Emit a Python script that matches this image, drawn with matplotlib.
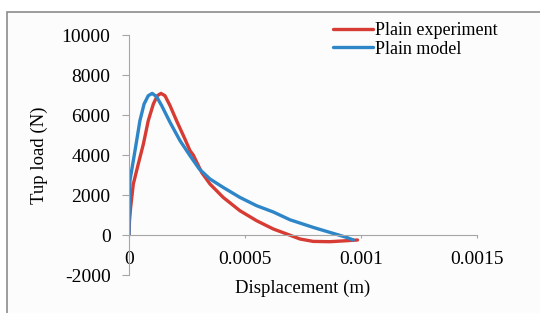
import matplotlib.pyplot as plt
from matplotlib.patches import Rectangle

plt.rcParams['font.family'] = ['Liberation Serif', 'DejaVu Serif']

# Plain experiment (red)
exp_x = [0, 0.000002, 0.000007, 0.0000186, 0.00004, 0.000062, 0.000083, 0.000105,
         0.000122, 0.000138, 0.000155, 0.000177, 0.000205, 0.000241, 0.000263,
         0.000277, 0.000313, 0.000349, 0.000406, 0.000478, 0.00055, 0.000622,
         0.00068, 0.000737, 0.000794, 0.000866, 0.000938, 0.000985]
exp_y = [0, 700, 1380, 2550, 3550, 4550, 5715, 6550, 6965, 7080, 6965, 6465, 5715,
         4800, 4215, 4000, 3130, 2550, 1880, 1215, 715, 300, 50, -200, -320, -335,
         -285, -250]

# Plain model (blue)
mod_x = [0, 0.000001, 0.000004, 0.0000186, 0.000033, 0.000047, 0.000065, 0.000083,
         0.0001, 0.000119, 0.000141, 0.000177, 0.00022, 0.000263, 0.000303,
         0.000349, 0.000406, 0.000478, 0.00055, 0.000622, 0.000694, 0.000794,
         0.000866, 0.000938, 0.000967]
mod_y = [0, 1500, 2715, 3715, 4715, 5715, 6550, 6965, 7080, 6915, 6465, 5630, 4715,
         3965, 3300, 2800, 2380, 1880, 1465, 1150, 760, 380, 130, -120, -250]

xticks = [0, 0.0005, 0.001, 0.0015]
xtick_labels = ['0', '0.0005', '0.001', '0.0015']
yticks = [-2000, 0, 2000, 4000, 6000, 8000, 10000]

fig = plt.figure(figsize=(5.4, 3.13), dpi=100)
fig.patch.set_facecolor('white')

# outer chart border
border = Rectangle((7 / 540, -0.05), 1, 1.05 - 12 / 313, transform=fig.transFigure,
                   facecolor='#fcfcfc', edgecolor='#8c8c8c', linewidth=1.2, zorder=-10)
fig.add_artist(border)

ax = fig.add_axes([129 / 540, 1 - 275 / 313, (477 - 129) / 540, (275 - 35) / 313])
ax.set_facecolor('none')

ax.plot(exp_x, exp_y, color='#d63c33', linewidth=2.4, solid_capstyle='round',
        solid_joinstyle='round', label='Plain experiment')
ax.plot(mod_x, mod_y, color='#2e86c8', linewidth=2.4, solid_capstyle='round',
        solid_joinstyle='round', label='Plain model')

ax.set_xlim(0, 0.0015)
ax.set_ylim(-2000, 10000)
ax.set_yticks(yticks)
ax.set_yticklabels([str(v) for v in yticks])
ax.set_xticks(xticks)
ax.set_xticklabels(xtick_labels)

for s in ['top', 'right']:
    ax.spines[s].set_visible(False)
ax.spines['bottom'].set_position(('data', 0))
ax.spines['bottom'].set_color('#a6a6a6')
ax.spines['left'].set_color('#a6a6a6')
ax.tick_params(axis='y', direction='out', length=5.3, color='#a6a6a6', labelsize=14, pad=8)
ax.tick_params(axis='x', direction='out', length=2.5, color='#a6a6a6', labelsize=14, pad=9)

ax.set_xlabel('Displacement (m)', fontsize=13.5)
ax.xaxis.set_label_coords(0.5, -0.02)
ax.set_ylabel('Tup load (N)', fontsize=13.5, labelpad=10)

ax.legend(loc='upper left', bbox_to_anchor=(333 / 540, 1 - 22 / 313),
          bbox_transform=fig.transFigure, frameon=False, fontsize=13,
          handlelength=2.2, handletextpad=0.15, labelspacing=0.1, borderaxespad=0,
          borderpad=0)

fig.savefig('out.png', dpi=100)
